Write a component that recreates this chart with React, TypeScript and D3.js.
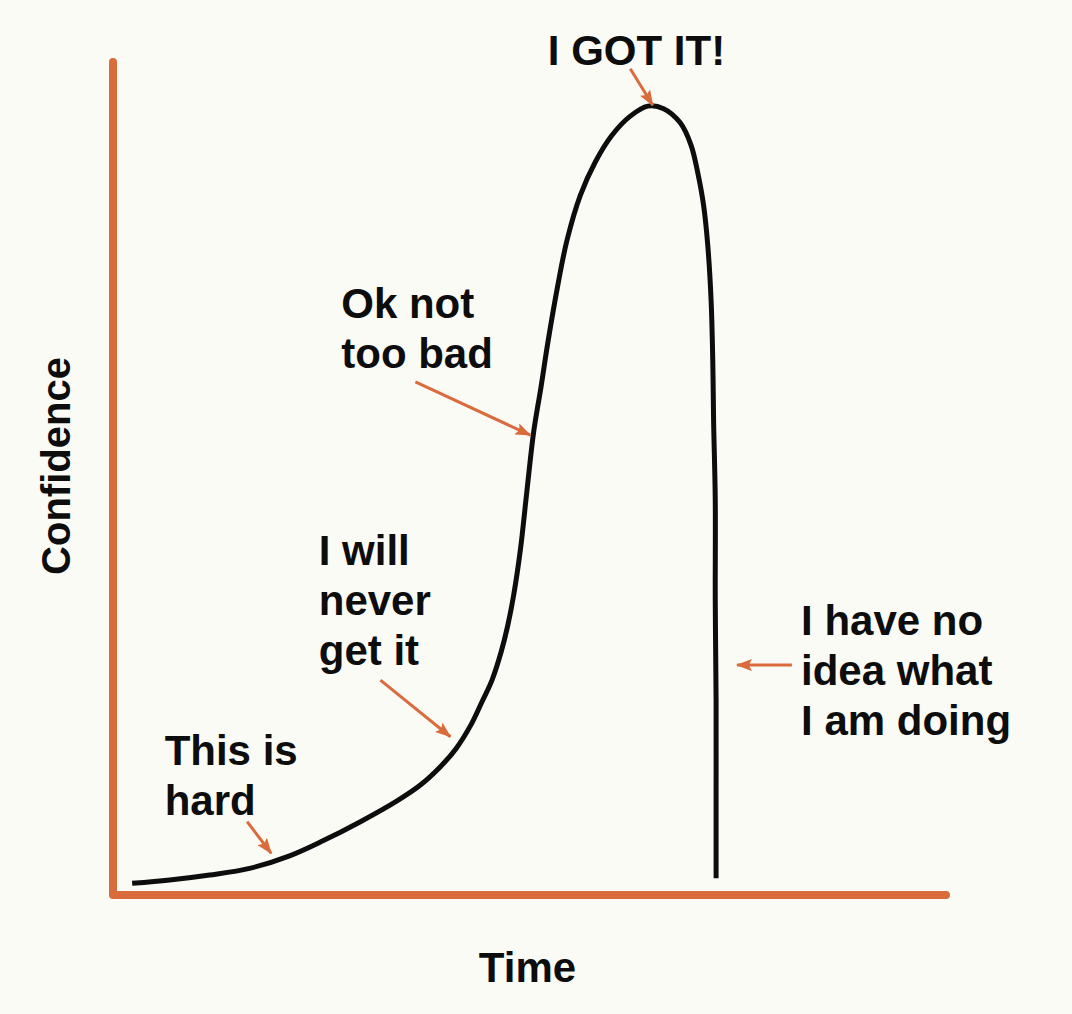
import { useRef, useEffect } from 'react';
import * as d3 from 'd3';

// Confidence vs time: the learning curve sketch.
const timeValues = [
  2.3, 6.8, 11.6, 16.4, 21.2, 25.2, 29.7, 34.1, 36.9, 39.3, 41.2, 42.9, 44.3,
  45.5, 46.6, 47.4, 48.1, 48.9, 49.7, 50.5, 51.4, 52.2, 53.4, 54.5, 56.1, 57.9,
  59.9, 62.1, 64.2, 66.1, 68.1, 69.4, 70.2, 70.9, 71.4, 71.8, 72.0, 72.1, 72.3,
  72.3, 72.4, 72.4, 72.4,
];
const confidenceValues = [
  1.4, 1.8, 2.4, 3.2, 4.7, 6.5, 8.8, 11.3, 13.2, 15.4, 17.6, 20.3, 23.2,
  25.8, 29.2, 32.4, 36.0, 41.4, 48.6, 55.6, 61.1, 66.3, 73.2, 78.6, 84.0, 88.0,
  91.2, 93.5, 94.7, 94.4, 92.7, 90.0, 86.7, 82.8, 78.0, 71.4, 64.2, 57.0, 47.4,
  35.4, 23.4, 12.6, 2.0,
];

// Annotations (anchors in chart units)
const noteLabels = [
  ['I GOT IT!'],
  ['Ok not', 'too bad'],
  ['I will', 'never', 'get it'],
  ['This is', 'hard'],
  ['I have no', 'idea what', 'I am doing'],
];
const noteTextTime = [52.2, 27.4, 24.7, 6.2, 82.6];
const noteTextConf = [99.6, 69.3, 39.6, 15.6, 31.2];
const arrowTailTime = [62.1, 36.3, 32.1, 16.1, 81.5];
const arrowTailConf = [99.2, 61.6, 25.8, 8.8, 27.6];
const arrowTipTime = [64.8, 50.1, 40.5, 19.0, 74.9];
const arrowTipConf = [94.8, 55.2, 19.0, 5.0, 27.6];

const xLabel = 'Time';
const yLabel = 'Confidence';

const WIDTH = 1072;
const HEIGHT = 1014;
const ORANGE = '#d96b3c';
const INK = '#0d0d0d';
const FONT = '"Liberation Sans", Arial, Helvetica, sans-serif';

export default function App() {
  const svgRef = useRef<SVGSVGElement | null>(null);

  useEffect(function () {
    const svg = d3.select(svgRef.current);
    svg.selectAll('*').remove();

    const x = d3.scaleLinear().domain([0, 100]).range([113, 946]);
    const y = d3.scaleLinear().domain([0, 100]).range([895, 62]);

    svg.append('rect')
      .attr('width', WIDTH)
      .attr('height', HEIGHT)
      .attr('fill', '#fbfbf6');

    const defs = svg.append('defs');
    defs.append('marker')
      .attr('id', 'arrow-head')
      .attr('markerUnits', 'userSpaceOnUse')
      .attr('viewBox', '0 0 16 12')
      .attr('markerWidth', 16)
      .attr('markerHeight', 12)
      .attr('refX', 15)
      .attr('refY', 6)
      .attr('orient', 'auto')
      .append('path')
      .attr('d', 'M0,0 L16,6 L0,12 L3,6 Z')
      .attr('fill', ORANGE);

    // Axes as one L-shaped stroke
    const axisLine = d3.line<[number, number]>()
      .x(function (d) { return x(d[0]); })
      .y(function (d) { return y(d[1]); });
    svg.append('path')
      .attr('d', axisLine([[0, 100], [0, 0], [100, 0]]))
      .attr('fill', 'none')
      .attr('stroke', ORANGE)
      .attr('stroke-width', 8)
      .attr('stroke-linecap', 'round')
      .attr('stroke-linejoin', 'round');

    // Curve
    const points = timeValues.map(function (t, i) { return [t, confidenceValues[i]] as [number, number]; });
    const curve = d3.line<[number, number]>()
      .x(function (d) { return x(d[0]); })
      .y(function (d) { return y(d[1]); })
      .curve(d3.curveCatmullRom.alpha(0.5));
    svg.append('path')
      .attr('d', curve(points))
      .attr('fill', 'none')
      .attr('stroke', INK)
      .attr('stroke-width', 5)
      .attr('stroke-linecap', 'butt')
      .attr('stroke-linejoin', 'round');

    // Arrows
    noteLabels.forEach(function (_, i) {
      svg.append('line')
        .attr('x1', x(arrowTailTime[i]))
        .attr('y1', y(arrowTailConf[i]))
        .attr('x2', x(arrowTipTime[i]))
        .attr('y2', y(arrowTipConf[i]))
        .attr('stroke', ORANGE)
        .attr('stroke-width', 3)
        .attr('marker-end', 'url(#arrow-head)');
    });

    // Annotation text
    noteLabels.forEach(function (lines, i) {
      const text = svg.append('text')
        .attr('x', x(noteTextTime[i]))
        .attr('y', y(noteTextConf[i]))
        .attr('font-family', FONT)
        .attr('font-weight', 'bold')
        .attr('font-size', 42)
        .attr('fill', INK);
      lines.forEach(function (line, j) {
        text.append('tspan')
          .attr('x', x(noteTextTime[i]))
          .attr('dy', j === 0 ? 0 : 50)
          .text(line);
      });
    });

    // Axis titles
    svg.append('text')
      .attr('x', (x(0) + x(100)) / 2 - 2)
      .attr('y', 982)
      .attr('text-anchor', 'middle')
      .attr('font-family', FONT)
      .attr('font-weight', 'bold')
      .attr('font-size', 42)
      .attr('fill', INK)
      .text(xLabel);

    svg.append('text')
      .attr('transform', 'translate(70,' + 466 + ') rotate(-90)')
      .attr('text-anchor', 'middle')
      .attr('font-family', FONT)
      .attr('font-weight', 'bold')
      .attr('font-size', 40)
      .attr('fill', INK)
      .text(yLabel);
  }, []);

  return (
    <div style={{ width: WIDTH, height: HEIGHT }}>
      <style>{'body{margin:0;background:#fbfbf6;}'}</style>
      <svg ref={svgRef} width={WIDTH} height={HEIGHT} style={{ display: 'block' }} aria-label="Confidence over time" />
    </div>
  );
}
